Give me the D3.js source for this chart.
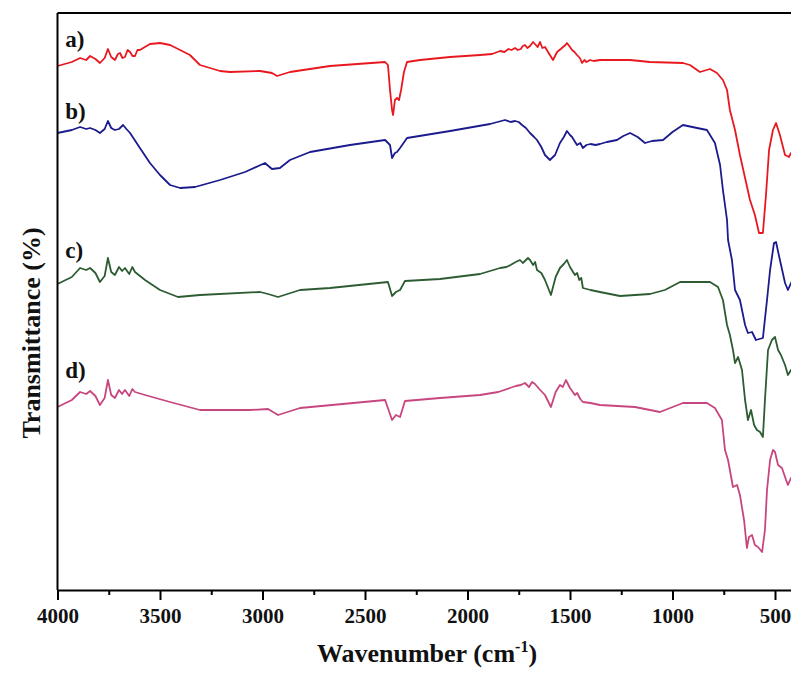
<!DOCTYPE html>
<html>
<head>
<meta charset="utf-8">
<script src="https://cdn.jsdelivr.net/npm/d3@7"></script>
<style>
  body { margin: 0; background: #fff; }
  svg { display: block; }
  text { font-family: "Liberation Serif", "Times New Roman", serif; font-weight: bold; }
</style>
</head>
<body>
<svg id="chart" width="791" height="675"></svg>
<script>
// ---- data: [wavenumber (cm-1), transmittance (offset, a.u.)] ----
const seriesA = [
  [4000,104.8],[3930,105.6],[3890,106.4],[3860,106.0],[3841,106.8],[3815,106.2],[3793,105.4],[3770,106.4],[3754,108.2],
  [3738,106.6],[3720,106.0],[3705,107.2],[3695,107.4],[3683,106.4],[3671,106.6],[3658,108.0],[3646,107.6],
  [3634,106.8],[3622,106.8],[3610,108.0],[3598,108.0],[3549,109.2],[3500,109.4],[3451,109.0],[3402,108.0],
  [3354,107.0],[3305,105.0],[3207,103.8],[3159,103.6],[3012,103.8],[2954,103.4],[2929,102.8],[2866,103.6],
  [2671,104.8],[2402,105.6],[2388,105.0],[2378,100.0],[2368,96.0],[2363,95.0],[2354,98.0],[2344,98.4],
  [2334,98.0],[2324,100.0],[2310,103.6],[2295,105.6],[2232,106.0],[2085,106.6],[1939,107.0],[1880,107.2],[1841,107.8],
  [1820,107.6],[1800,108.2],[1785,108.0],[1768,108.4],[1755,108.0],[1740,108.2],[1730,108.8],[1720,109.0],[1708,108.4],
  [1695,108.8],[1680,109.6],[1671,109.2],[1658,108.6],[1646,109.6],[1635,108.4],[1622,108.6],[1598,107.0],
  [1583,106.0],[1563,107.6],[1545,108.2],[1534,108.6],[1522,109.0],[1515,109.4],[1500,108.6],[1490,108.0],
  [1478,107.6],[1466,107.0],[1452,106.4],[1441,105.4],[1430,106.0],[1420,105.6],[1402,106.0],[1385,105.8],
  [1354,106.0],[1207,106.0],[1110,105.6],[949,105.4],[915,105.0],[866,103.6],[817,104.2],[783,103.4],[754,102.0],
  [734,100.0],[720,96.0],[695,92.0],[671,87.0],[646,82.4],[622,78.0],[598,75.0],[578,71.4],[559,71.4],
  [544,79.0],[529,88.0],[510,92.0],[495,93.4],[476,91.0],[451,87.0],[432,86.6],[422,87.4],[402,88.0]
];
const seriesB = [
  [4000,91.4],[3930,92.0],[3890,92.6],[3860,92.2],[3841,92.4],[3815,92.0],[3793,91.4],[3770,92.2],[3754,93.8],[3738,92.4],
  [3720,92.0],[3700,92.2],[3680,93.0],[3664,92.2],[3646,91.4],[3598,88.4],[3549,85.4],[3500,83.0],
  [3451,81.0],[3402,80.4],[3329,80.6],[3207,82.0],[3085,83.6],[2988,85.4],[2954,84.2],[2915,84.4],
  [2866,86.0],[2768,87.6],[2573,89.0],[2402,90.0],[2378,89.0],[2368,86.4],[2354,87.4],[2344,87.6],
  [2329,88.4],[2295,90.4],[2085,91.8],[1890,93.2],[1817,94.0],[1790,93.6],[1768,93.8],[1750,93.6],[1734,93.0],[1715,92.4],[1695,91.4],
  [1675,90.6],[1661,90.0],[1640,88.6],[1622,87.0],[1598,86.0],[1573,87.0],[1549,89.4],[1530,90.6],[1515,91.8],[1500,91.0],[1490,90.6],
  [1466,89.0],[1450,89.4],[1437,88.4],[1420,89.0],[1400,89.2],[1375,89.0],[1354,89.2],[1320,89.6],[1271,90.0],[1240,90.8],[1207,91.4],
  [1170,90.6],[1134,89.4],[1100,89.8],[1046,90.0],[1000,91.6],[949,93.0],[880,92.4],[832,92.0],[793,89.4],[768,85.0],[754,80.0],
  [734,74.0],[729,70.0],[710,66.0],[695,60.0],[671,58.0],[646,53.0],[632,51.4],[612,51.6],[593,50.0],[559,50.4],
  [539,58.0],[524,64.0],[505,69.4],[495,69.6],[476,66.0],[451,61.4],[437,60.0],[422,61.4],[402,62.4]
];
const seriesC = [
  [4000,61.2],[3930,62.6],[3890,64.4],[3860,64.0],[3841,64.4],[3815,63.4],[3793,61.6],[3770,62.8],[3754,66.4],[3738,63.6],
  [3720,63.0],[3700,64.6],[3685,63.8],[3671,64.4],[3650,63.2],[3635,64.6],[3622,63.6],[3573,62.0],[3500,60.0],
  [3412,58.6],[3305,59.0],[3012,59.6],[2973,59.2],[2924,58.6],[2817,60.0],[2671,60.4],[2388,61.6],
  [2368,58.8],[2349,59.6],[2329,60.0],[2305,61.8],[2134,62.2],[1939,63.2],[1841,64.4],[1810,64.6],[1790,65.0],
  [1765,65.6],[1744,66.0],[1730,65.4],[1720,65.8],[1705,66.4],[1695,66.0],[1680,65.0],[1670,65.6],[1661,64.0],[1640,63.4],
  [1622,62.0],[1593,59.0],[1570,62.6],[1549,64.4],[1530,65.2],[1515,66.0],[1500,64.6],[1476,63.0],[1465,63.4],[1455,62.0],
  [1445,62.4],[1437,60.4],[1400,60.0],[1354,59.6],[1256,58.8],[1110,59.2],[1037,60.0],[963,61.6],
  [880,61.6],[817,61.6],[778,60.6],[754,58.0],[734,53.0],[720,51.0],[705,48.0],[695,45.4],[680,46.6],
  [661,44.0],[646,38.0],[632,34.0],[617,36.0],[602,33.0],[588,32.0],[573,31.6],[559,30.6],[549,38.0],
  [534,48.0],[515,50.0],[500,50.6],[485,48.0],[471,47.0],[451,45.0],[437,43.0],[422,44.0],[402,44.8]
];
const seriesD = [
  [4000,36.6],[3930,38.0],[3890,39.6],[3860,39.2],[3841,39.8],[3815,38.8],[3793,37.0],[3770,38.4],[3754,42.0],[3738,39.0],
  [3720,38.4],[3700,40.0],[3685,39.2],[3671,40.0],[3650,38.8],[3635,40.2],[3622,39.6],[3573,39.0],[3451,37.6],
  [3305,36.0],[3061,36.0],[2973,36.2],[2924,35.0],[2817,36.4],[2402,38.0],[2368,34.0],[2349,35.0],
  [2329,34.6],[2305,37.8],[2134,38.4],[1939,39.0],[1850,39.6],[1793,40.4],[1765,40.8],[1740,41.0],[1720,41.4],[1700,40.6],
  [1685,41.6],[1671,41.2],[1650,40.2],[1622,39.0],[1593,36.6],[1570,39.6],[1549,41.0],[1535,40.6],[1520,42.0],
  [1500,40.4],[1476,39.0],[1465,39.4],[1450,38.2],[1437,37.6],[1400,37.4],[1354,37.0],
  [1183,36.6],[1061,35.6],[949,37.4],[832,37.4],[793,36.4],[759,34.0],[744,28.0],[729,26.0],[705,20.6],
  [685,21.0],[671,19.0],[651,14.0],[637,8.4],[627,10.6],[612,11.0],[598,9.0],[583,8.6],[563,7.6],
  [549,12.0],[539,20.0],[524,26.0],[510,28.0],[500,27.6],[485,25.0],[466,24.4],[446,22.0],[437,21.0],
  [422,22.4],[402,23.2]
];
const seriesNames = ["a)", "b)", "c)", "d)"];
const seriesColors = ["#e8181f", "#1b1b8e", "#2d5c33", "#c8467f"];
const labelLevels = [108.6, 94.2, 66.4, 42.4];
const majorTicks = [4000, 3500, 3000, 2500, 2000, 1500, 1000, 500];
const minorTicks = [3750, 3250, 2750, 2250, 1750, 1250, 750];

// ---- layout ----
const margin = { top: 13, left: 57.5, bottom: 85 };
const W = 791, H = 675;
const plotBottom = H - margin.bottom; // 590

const x = d3.scaleLinear().domain([4000, 400]).range([margin.left, margin.left + 3600 * 0.205]);
const y = d3.scaleLinear().domain([0, 115.4]).range([plotBottom, margin.top]);

const svg = d3.select("#chart");

svg.append("defs").append("clipPath").attr("id", "clip")
  .append("rect")
  .attr("x", margin.left).attr("y", margin.top)
  .attr("width", x(400) - margin.left).attr("height", plotBottom - margin.top);

// curves
const line = d3.line().x(d => x(d[0])).y(d => y(d[1]));
const allSeries = [seriesA, seriesB, seriesC, seriesD];
svg.append("g").attr("clip-path", "url(#clip)")
  .selectAll("path")
  .data(allSeries)
  .join("path")
  .attr("fill", "none")
  .attr("stroke", (d, i) => seriesColors[i])
  .attr("stroke-width", 1.8)
  .attr("stroke-linejoin", "round")
  .attr("d", line);

// labels a) b) c) d)
svg.selectAll(".lbl")
  .data(seriesNames)
  .join("text")
  .attr("class", "lbl")
  .attr("x", x(3962))
  .attr("y", (d, i) => y(labelLevels[i]))
  .style("font-size", "23px")
  .attr("fill", "#111")
  .text(d => d);

// frame: top + left
svg.append("line")
  .attr("x1", margin.left).attr("x2", W + 10)
  .attr("y1", margin.top).attr("y2", margin.top)
  .attr("stroke", "#000").attr("stroke-width", 2);
svg.append("line")
  .attr("x1", margin.left).attr("x2", margin.left)
  .attr("y1", margin.top).attr("y2", plotBottom)
  .attr("stroke", "#000").attr("stroke-width", 2);

// x axis
const xAxis = svg.append("g")
  .attr("transform", `translate(0,${plotBottom})`)
  .call(d3.axisBottom(x).tickValues(majorTicks).tickSize(10).tickPadding(8).tickFormat(d3.format("d")));
xAxis.select(".domain").attr("stroke-width", 2);
xAxis.selectAll(".tick line").attr("stroke-width", 2);
xAxis.selectAll("text").style("font-size", "21px").attr("fill", "#111");

svg.append("g")
  .attr("transform", `translate(0,${plotBottom})`)
  .call(d3.axisBottom(x).tickValues(minorTicks).tickSize(5).tickFormat(""))
  .call(g => g.select(".domain").remove())
  .selectAll(".tick line").attr("stroke-width", 2);

// axis titles
const xt = svg.append("text")
  .attr("x", 427).attr("y", 662)
  .attr("text-anchor", "middle")
  .style("font-size", "26px")
  .attr("fill", "#111");
xt.append("tspan").text("Wavenumber (cm");
xt.append("tspan").attr("dy", -10).style("font-size", "16px").text("-1");
xt.append("tspan").attr("dy", 10).text(")");

svg.append("text")
  .attr("transform", "translate(40,333) rotate(-90)")
  .attr("text-anchor", "middle")
  .style("font-size", "26px")
  .attr("fill", "#111")
  .text("Transmittance (%)");
</script>
</body>
</html>
